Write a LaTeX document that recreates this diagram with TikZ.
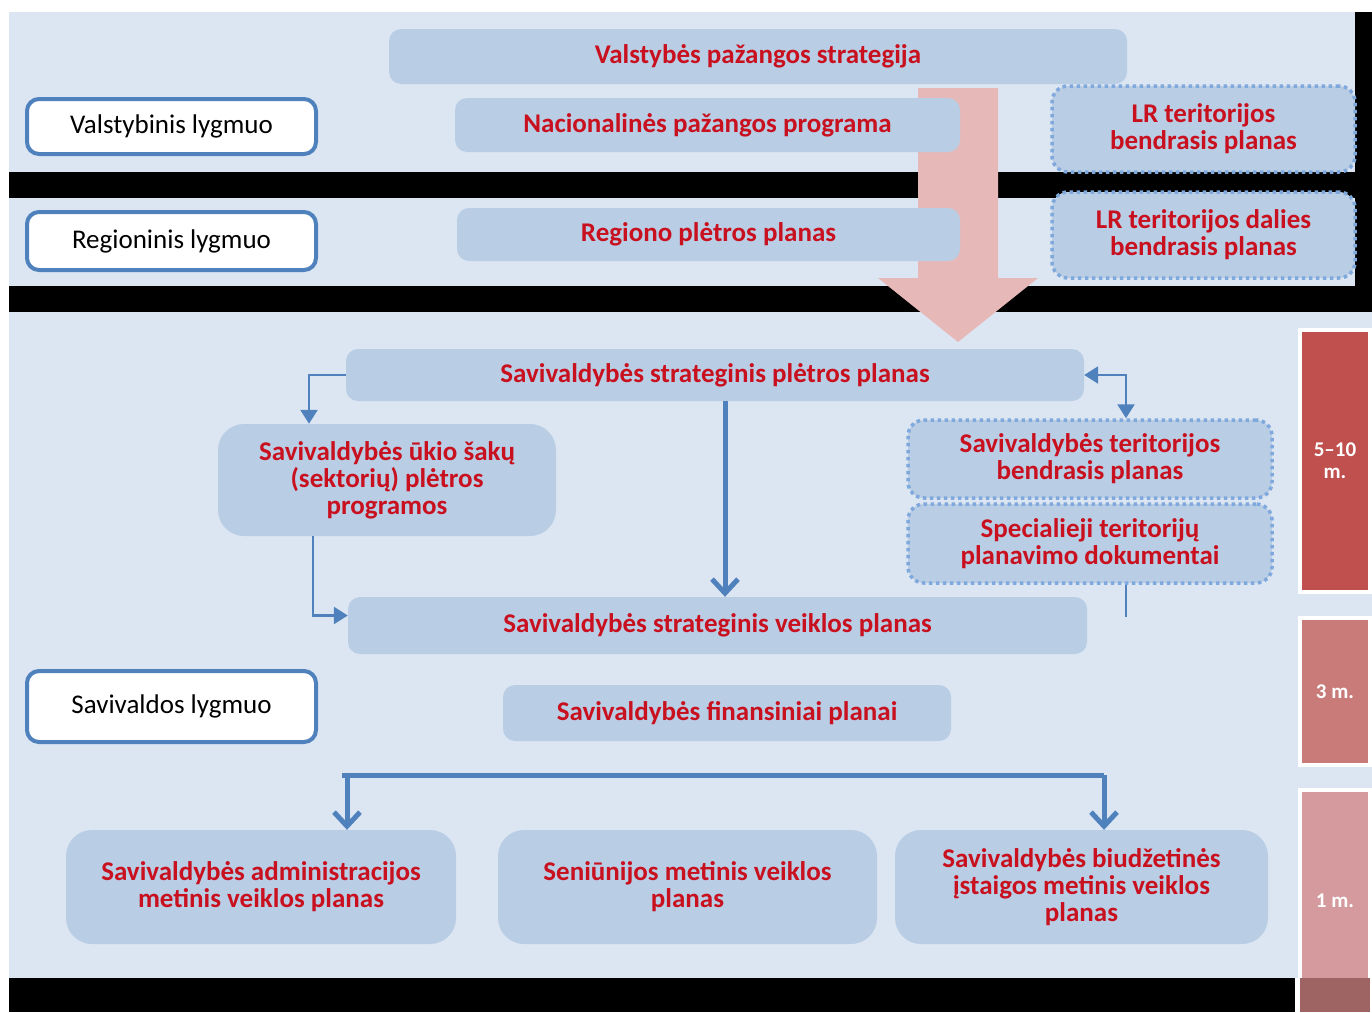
\documentclass[tikz,border=0pt]{standalone}
\usepackage{fontspec}
\setmainfont{Carlito}
\usetikzlibrary{arrows.meta, positioning}

\definecolor{bandblue}{HTML}{DCE6F2}
\definecolor{boxblue}{HTML}{B9CDE5}
\definecolor{lineblue}{HTML}{4F81BD}
\definecolor{dotblue}{HTML}{7FA8DC}
\definecolor{planred}{HTML}{C8101E}
\definecolor{arrowpink}{HTML}{E6B9B8}
\definecolor{termA}{HTML}{C0504D}
\definecolor{termB}{HTML}{C97B7A}
\definecolor{termC}{HTML}{D49A9D}
\definecolor{termD}{HTML}{9E6464}

\begin{document}
\begin{tikzpicture}
	[x=1pt, y=-1pt,%
	plan/.style    ={rectangle, rounded corners=12pt, fill=boxblue, text=planred, inner sep=0pt, align=center, font=\fontsize{27}{27}\selectfont\bfseries},%
	bigplan/.style ={plan, rounded corners=26pt},%
	dotplan/.style ={plan, rounded corners=16pt, draw=dotblue, line width=3.5pt, dash pattern=on 3.5pt off 3.5pt},%
	level/.style   ={rectangle, rounded corners=12pt, fill=white, draw=lineblue, line width=4pt, inner sep=0pt, minimum width=289pt, font=\fontsize{27}{27}\selectfont},%
	term/.style    ={rectangle, draw=white, line width=4pt, text=white, inner sep=0pt, minimum width=70pt, align=center, font=\fontsize{21}{22}\selectfont\bfseries},%
	thinarrow/.style={draw=lineblue, line width=2.5pt, -{Triangle[length=14pt, width=17pt]}},%
	bigarrow/.style ={draw=lineblue, line width=5pt, -{Straight Barb[length=14pt, width=26pt]}},%
	]

	\useasboundingbox (0,0) rectangle (1372,1012);

	% bands
	\fill [white] (0,0) rectangle (1372,1012);
	\fill [black] (9,12) rectangle (1372,312);
	\foreach \top/\bot/\right in {12/172/1355, 198/286/1355, 312/978/1372}
		\fill [bandblue] (9,\top) rectangle (\right,\bot);
	\fill [black] (9,978) rectangle (1295,1012);

	% downward arrow
	\fill [arrowpink] (918,88) -- (998,88) -- (998,278) -- (1038,278) -- (958,342)
		-- (878,278) -- (918,278) -- cycle;

	% levels
	\node (lvlstate)  at (171.5,126.5) [level, minimum height=55pt] {Valstybinis lygmuo};
	\node (lvlregion) at (171.5,241)   [level, minimum height=58pt] {Regioninis lygmuo};
	\node (lvllocal)  at (171.5,706.5) [level, minimum height=71pt] {Savivaldos lygmuo};

	% state and region
	\node (vps)    at (758,56.5)   [plan, minimum width=738pt, minimum height=55pt] {Valstybės pažangos strategija};
	\node (npp)    at (707.5,125)  [plan, minimum width=505pt, minimum height=54pt] {Nacionalinės pažangos programa};
	\node (rpp)    at (708.5,234.5)[plan, minimum width=503pt, minimum height=53pt] {Regiono plėtros planas};
	\node (lrbp)   at (1203.5,129) [dotplan, minimum width=303pt, minimum height=86pt] {LR teritorijos\\bendrasis planas};
	\node (lrdbp)  at (1203.5,235) [dotplan, minimum width=303pt, minimum height=86pt] {LR teritorijos dalies\\bendrasis planas};

	% municipality
	\node (sspp)   at (715,375)    [plan, minimum width=738pt, minimum height=52pt] {Savivaldybės strateginis plėtros planas};
	\node (ukis)   at (387,480)    [bigplan, minimum width=338pt, minimum height=112pt] {Savivaldybės ūkio šakų\\(sektorių) plėtros\\programos};
	\node (stbp)   at (1090,459)   [dotplan, minimum width=364pt, minimum height=78pt] {Savivaldybės teritorijos\\bendrasis planas};
	\node (stpd)   at (1090,543.5) [dotplan, minimum width=364pt, minimum height=79pt] {Specialieji teritorijų\\planavimo dokumentai};
	\node (ssvp)   at (717.5,625.5)[plan, minimum width=739pt, minimum height=57pt] {Savivaldybės strateginis veiklos planas};
	\node (sfp)    at (727,713)    [plan, minimum width=448pt, minimum height=56pt] {Savivaldybės finansiniai planai};
	\node (adm)    at (261,887)    [bigplan, minimum width=390pt, minimum height=114pt] {Savivaldybės administracijos\\metinis veiklos planas};
	\node (sen)    at (687.5,887)  [bigplan, minimum width=379pt, minimum height=114pt] {Seniūnijos metinis veiklos\\planas};
	\node (biu)    at (1081.5,887) [bigplan, minimum width=373pt, minimum height=114pt] {Savivaldybės biudžetinės\\įstaigos metinis veiklos\\planas};

	% terms
	\node (t510) at (1335,461)   [term, fill=termA, minimum height=262pt] {5–10\\m.};
	\node (t3)   at (1335,691.5) [term, fill=termB, minimum height=147pt] {3 m.};
	\node (t1)   at (1335,901)   [term, fill=termC, minimum height=222pt] {1 m.};
	\fill [termD] (1300,978) rectangle (1370,1012);

	% connectors
	\draw [thinarrow] (sspp.west) -| ([xshift=-78pt]ukis.north);
	\draw [thinarrow] ([xshift=-74pt]ukis.south) |- ([yshift=10pt]ssvp.west);
	\draw [bigarrow] ([xshift=10pt]sspp.south) -- ([xshift=7.5pt]ssvp.north);
	\draw [thinarrow, {Triangle[length=14pt, width=17pt]}-{Triangle[length=14pt, width=17pt]}]
		(sspp.east) -| ([xshift=36pt]stbp.north);
	\coordinate (spend) at (1126,617);
	\draw [draw=lineblue, line width=2pt] ([xshift=36pt]stpd.south) -- (spend);

	\coordinate (busL) at (342,775);
	\coordinate (busR) at (1104,775);
	\draw [draw=lineblue, line width=5pt] (busL) -- (busR);
	\draw [bigarrow] ([xshift=5pt]busL) -- ([xshift=86pt]adm.north);
	\draw [bigarrow] (busR) -- ([xshift=22.5pt]biu.north);

\end{tikzpicture}
\end{document}
